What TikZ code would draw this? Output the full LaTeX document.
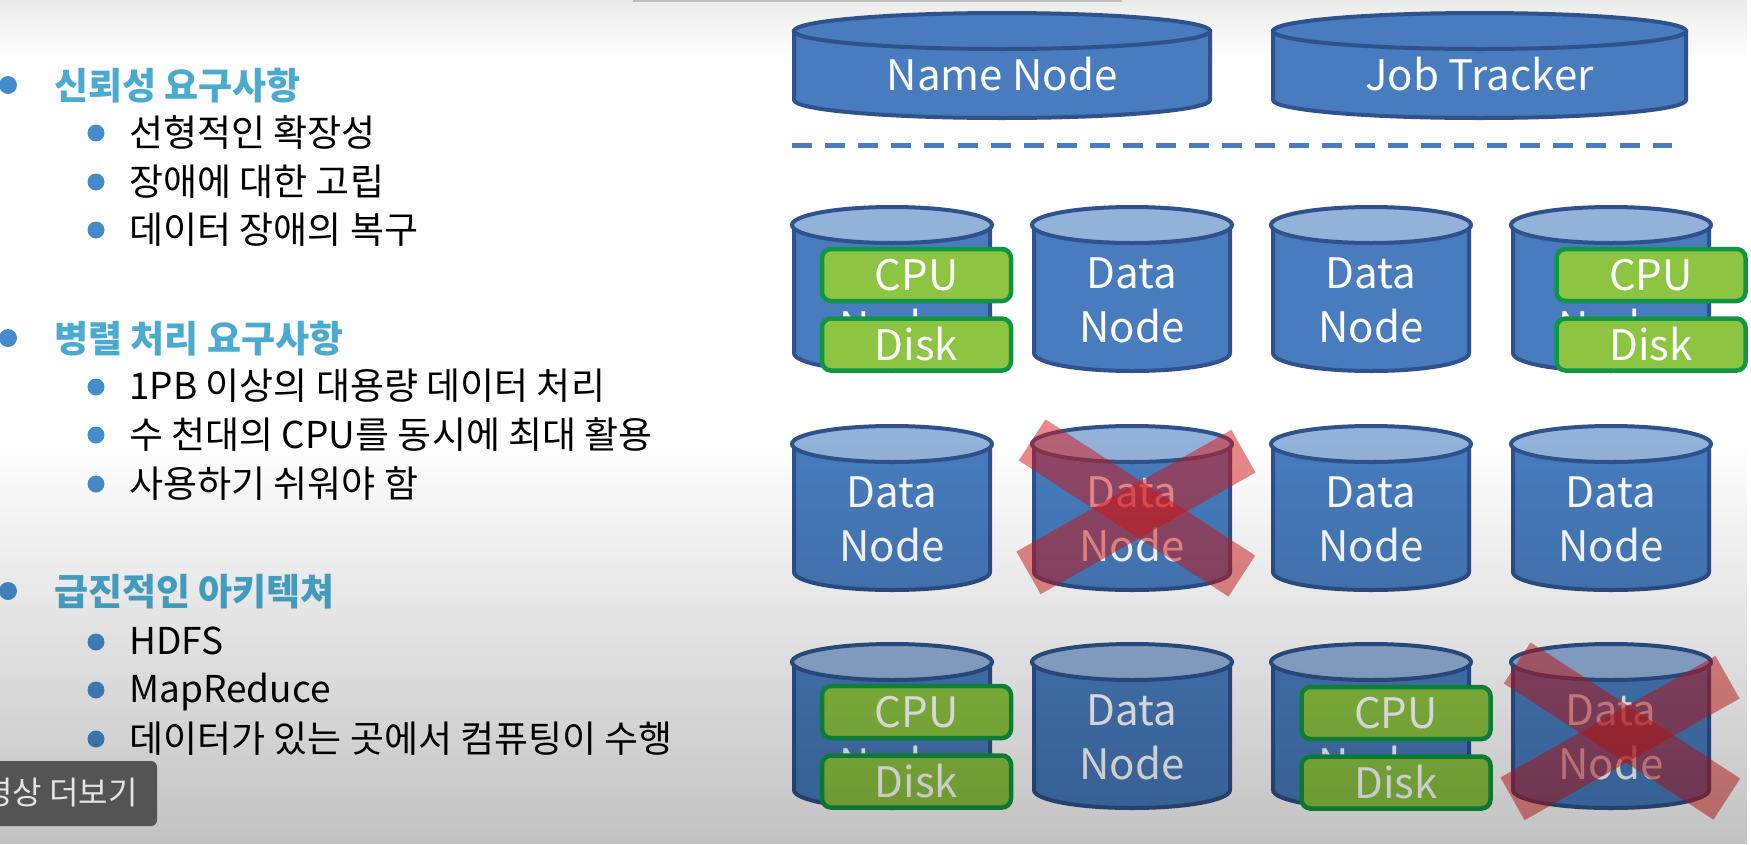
\documentclass[tikz,border=0pt]{standalone}
\usepackage{fontspec}
\setmainfont{Noto Sans CJK KR}
\usetikzlibrary{fadings}
\definecolor{cylblue}{RGB}{72,124,190}
\definecolor{cyltop}{RGB}{147,178,218}
\definecolor{cyledge}{RGB}{47,82,140}
\definecolor{boxgreen}{RGB}{141,196,66}
\definecolor{boxedge}{RGB}{16,150,66}
\definecolor{headcol}{RGB}{74,170,208}
\definecolor{bulcol}{RGB}{70,140,205}
\definecolor{xred}{RGB}{215,20,20}
\definecolor{btngray}{RGB}{84,84,84}
\definecolor{topline}{RGB}{190,190,190}
\tikzfading[name=fadedown, top color=transparent!100, bottom color=transparent!0]
\tikzfading[name=fadeup, top color=transparent!0, bottom color=transparent!100]
\newcommand\mycyl[7]{%
  \pgfmathsetmacro\cx{(#2+#4)/2}%
  \pgfmathsetmacro\rx{(#4-#2)/2}%
  \pgfmathsetmacro\yt{#3+#6}%
  \pgfmathsetmacro\yb{#5-#6}%
  \filldraw[cylstyle] (#2,\yt) -- (#2,\yb) .. controls (#2,{\yb+0.5523*#6}) and ({\cx-0.5523*\rx},#5) .. (\cx,#5) .. controls ({\cx+0.5523*\rx},#5) and (#4,{\yb+0.5523*#6}) .. (#4,\yb) -- (#4,\yt) -- cycle;
  \filldraw[cylstyle, fill=#7] (\cx,\yt) ellipse [x radius=\rx pt, y radius=#6pt];
  \coordinate (#1) at (\cx,#3);
}
\newcommand\datacyl[3]{% name, left, top
  \mycyl{#1}{#2+2}{#3+2}{#2+198}{#3+166}{18}{cyltop}
  \node[cyltext] (#1-a) at ([yshift=-81pt]#1) {Data};
  \node[cyltext] (#1-b) at ([yshift=-135pt]#1) {Node};
}
\begin{document}
\begin{tikzpicture}[x=1pt,y=-1pt,
  cylstyle/.style={fill=cylblue, draw=cyledge, line width=4pt},
  cyltext/.style={anchor=base, text=white, inner sep=0pt, font=\fontsize{42}{50}\selectfont},
  gboxs/.style={rectangle, rounded corners=9pt, fill=boxgreen, draw=boxedge, line width=4.5pt,
    minimum width=189pt, minimum height=52pt, inner sep=0pt, text=white, font=\fontsize{42}{50}\selectfont},
  xbar/.style={rectangle, fill=xred, fill opacity=0.5, draw=none, inner sep=0pt, minimum height=49pt},
  head/.style={anchor=base west, inner sep=0pt, text=headcol, font=\fontsize{37}{44}\selectfont\bfseries},
  item/.style={anchor=base west, inner sep=0pt, text=black, font=\fontsize{37}{44}\selectfont},
  bigbul/.style={circle, fill=bulcol, inner sep=0pt, minimum size=18pt},
  smallbul/.style={circle, fill=bulcol, inner sep=0pt, minimum size=17pt}]
\useasboundingbox (0,0) rectangle (1751,844);
\fill[white] (0,0) rectangle (1751,844);
\fill[black, fill opacity=0.08, path fading=fadeup] (0,0) rectangle (1751,60);
% thin line at top
\coordinate (tl1) at (633,1);
\coordinate (tl2) at (1122,1);
\draw[topline, line width=2pt] (tl1) -- (tl2);

% left text
\node[bigbul] (b1) at (8,85) {};
\node[head] (h1) at (54,99) {신뢰성 요구사항};
\node[smallbul] (b11) at (96,133) {};
\node[item] (t11) at (129,146) {선형적인 확장성};
\node[smallbul] (b12) at (96,182) {};
\node[item] (t12) at (129,195) {장애에 대한 고립};
\node[smallbul] (b13) at (96,230) {};
\node[item] (t13) at (129,243) {데이터 장애의 복구};

\node[bigbul] (b2) at (8,338) {};
\node[head] (h2) at (54,352) {병렬 처리 요구사항};
\node[smallbul] (b21) at (96,387) {};
\node[item] (t21) at (129,399) {1PB 이상의 대용량 데이터 처리};
\node[smallbul] (b22) at (96,435) {};
\node[item] (t22) at (129,448) {수 천대의 CPU를 동시에 최대 활용};
\node[smallbul] (b23) at (96,484) {};
\node[item] (t23) at (129,497) {사용하기 쉬워야 함};

\node[bigbul] (b3) at (8,591) {};
\node[head] (h3) at (54,605) {급진적인 아키텍쳐};
\node[smallbul] (b31) at (96,642) {};
\node[item] (t31) at (129,654) {HDFS};
\node[smallbul] (b32) at (96,690) {};
\node[item] (t32) at (129,702) {MapReduce};
\node[smallbul] (b33) at (96,739) {};
\node[item] (t33) at (129,752) {데이터가 있는 곳에서 컴퓨팅이 수행};

% master cylinders
\mycyl{nn}{794}{13}{1210}{118}{18}{cylblue}
\node[cyltext] (nnt) at ([yshift=-77pt]nn) {Name Node};
\mycyl{jt}{1273}{13}{1686}{118}{18}{cylblue}
\node[cyltext] (jtt) at ([yshift=-77pt]jt) {Job Tracker};

% dashed separator
\coordinate (dl) at (792,145);
\coordinate (dr) at (1672,145);
\draw[cylblue, line width=5pt, dash pattern=on 20pt off 13.1pt] (dl) -- (dr);

% data nodes
\datacyl{d11}{792}{205}
\datacyl{d12}{1032}{205}
\datacyl{d13}{1271}{205}
\datacyl{d14}{1511}{205}
\datacyl{d21}{792}{424}
\datacyl{d22}{1032}{424}
\datacyl{d23}{1271}{424}
\datacyl{d24}{1511}{424}
\datacyl{d31}{792}{642}
\datacyl{d32}{1032}{642}
\datacyl{d33}{1271}{642}
\datacyl{d34}{1511}{642}

% CPU / Disk boxes
\node[gboxs] (c11) at (916.5,275) {CPU};
\node[gboxs] (k11) at (916.5,344.5) {Disk};
\node[gboxs] (c14) at (1651,275) {CPU};
\node[gboxs] (k14) at (1651,344.5) {Disk};
\node[gboxs] (c31) at (916.5,712) {CPU};
\node[gboxs] (k31) at (916.5,781.5) {Disk};
\node[gboxs] (c33) at (1396,713) {CPU};
\node[gboxs] (k33) at (1396,782.5) {Disk};

% red crosses
\node[xbar, minimum width=250pt, rotate=-33] (xa1) at (1137,508) {};
\node[xbar, minimum width=247pt, rotate=29.5] (xa2) at (1136,512) {};
\node[xbar, minimum width=250pt, rotate=-33] (xb1) at (1622,731) {};
\node[xbar, minimum width=247pt, rotate=29.5] (xb2) at (1620,738) {};

% bottom darkening
\fill[black, fill opacity=0.24, path fading=fadedown] (0,440) rectangle (1751,844);

% video button
\fill[btngray, rounded corners=6pt] (-12,761) rectangle (157,826);
\node[anchor=base east, inner sep=0pt, text=white!90!black, font=\fontsize{32}{36}\selectfont] (btn) at (138,804) {영상 더보기};
\end{tikzpicture}
\end{document}
